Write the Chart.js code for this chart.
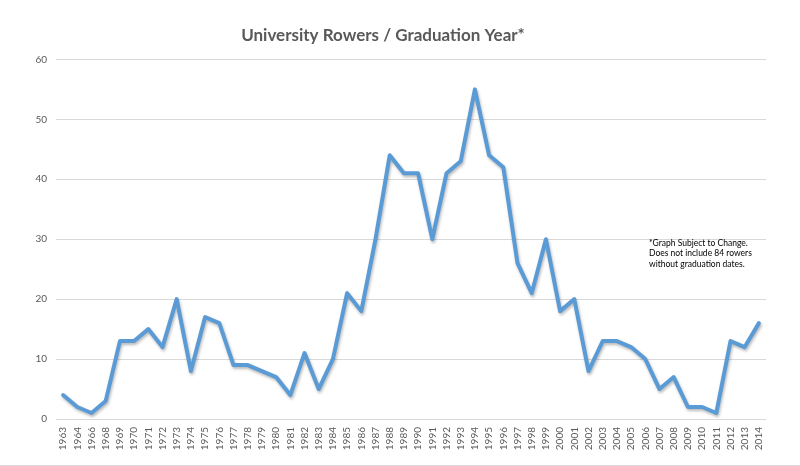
<!DOCTYPE html>
<html>
<head>
<meta charset="utf-8">
<script src="https://cdn.jsdelivr.net/npm/chart.js@4.4.1/dist/chart.umd.min.js"></script>
<style>
  html, body { margin: 0; padding: 0; background: #fff; }
  #wrap { width: 800px; height: 465px; border-bottom: 1px solid #d9d9d9; position: relative; }
  canvas { display: block; }
</style>
</head>
<body>
<div id="wrap"><canvas id="c" width="800" height="465"></canvas></div>
<script>
const years = ["1963","1964","1966","1968","1969","1970","1971","1972","1973","1974","1975","1976","1977","1978","1979","1980","1981","1982","1983","1984","1985","1986","1987","1988","1989","1990","1991","1992","1993","1994","1995","1996","1997","1998","1999","2000","2001","2002","2003","2004","2005","2006","2007","2008","2009","2010","2011","2012","2013","2014"];
const rowers = [4,2,1,3,13,13,15,12,20,8,17,16,9,9,8,7,4,11,5,10,21,18,30,44,41,41,30,41,43,55,44,42,26,21,30,18,20,8,13,13,12,10,5,7,2,2,1,13,12,16];
const yTicks = [0,10,20,30,40,50,60];
const titleText = "University Rowers / Graduation Year*";
const noteLines = ["*Graph Subject to Change.", "Does not include 84 rowers", "without graduation dates."];

const shadowPlugin = {
  id: 'shadow',
  beforeDatasetsDraw(chart) {
    const ctx = chart.ctx;
    ctx.save();
    ctx.shadowColor = 'rgba(0,0,0,0.28)';
    ctx.shadowBlur = 3;
    ctx.shadowOffsetX = 1;
    ctx.shadowOffsetY = 2;
  },
  afterDatasetsDraw(chart) { chart.ctx.restore(); }
};

const notePlugin = {
  id: 'note',
  afterDraw(chart) {
    const ctx = chart.ctx;
    ctx.save();
    ctx.fillStyle = '#000';
    ctx.font = '8.5px Lato';
    ctx.textBaseline = 'middle';
    ctx.textAlign = 'left';
    noteLines.forEach((t, i) => ctx.fillText(t, 649, 243 + i * 10.5));
    ctx.restore();
  }
};

new Chart(document.getElementById('c'), {
  type: 'line',
  data: {
    labels: years,
    datasets: [{
      data: rowers,
      borderColor: '#5B9BD5',
      borderWidth: 4,
      pointRadius: 0,
      tension: 0,
      fill: false,
      borderJoinStyle: 'round',
      borderCapStyle: 'round'
    }]
  },
  options: {
    responsive: false,
    animation: false,
    layout: { padding: { left: 0, right: 34, top: 0, bottom: 0 } },
    plugins: {
      legend: { display: false },
      tooltip: { enabled: false },
      title: {
        display: true,
        text: titleText,
        color: '#595959',
        font: { family: 'Lato', size: 17, weight: 'bold' },
        padding: { top: 25, bottom: 14 }
      }
    },
    scales: {
      x: {
        offset: true,
        grid: { display: false, drawTicks: false },
        border: { display: false },
        ticks: {
          autoSkip: false,
          maxRotation: 90,
          minRotation: 90,
          padding: 8,
          color: '#595959',
          font: { family: 'Lato', size: 10 }
        },
        afterFit(scale) { scale.height = 46; }
      },
      y: {
        min: 0,
        max: 60,
        afterBuildTicks(scale) { scale.ticks = yTicks.map(v => ({ value: v })); },
        grid: { color: '#d9d9d9', lineWidth: 1, drawTicks: false },
        border: { display: false },
        ticks: {
          padding: 9,
          color: '#595959',
          font: { family: 'Lato', size: 10 }
        },
        afterFit(scale) { scale.width = 56; }
      }
    }
  },
  plugins: [shadowPlugin, notePlugin]
});
</script>
</body>
</html>
